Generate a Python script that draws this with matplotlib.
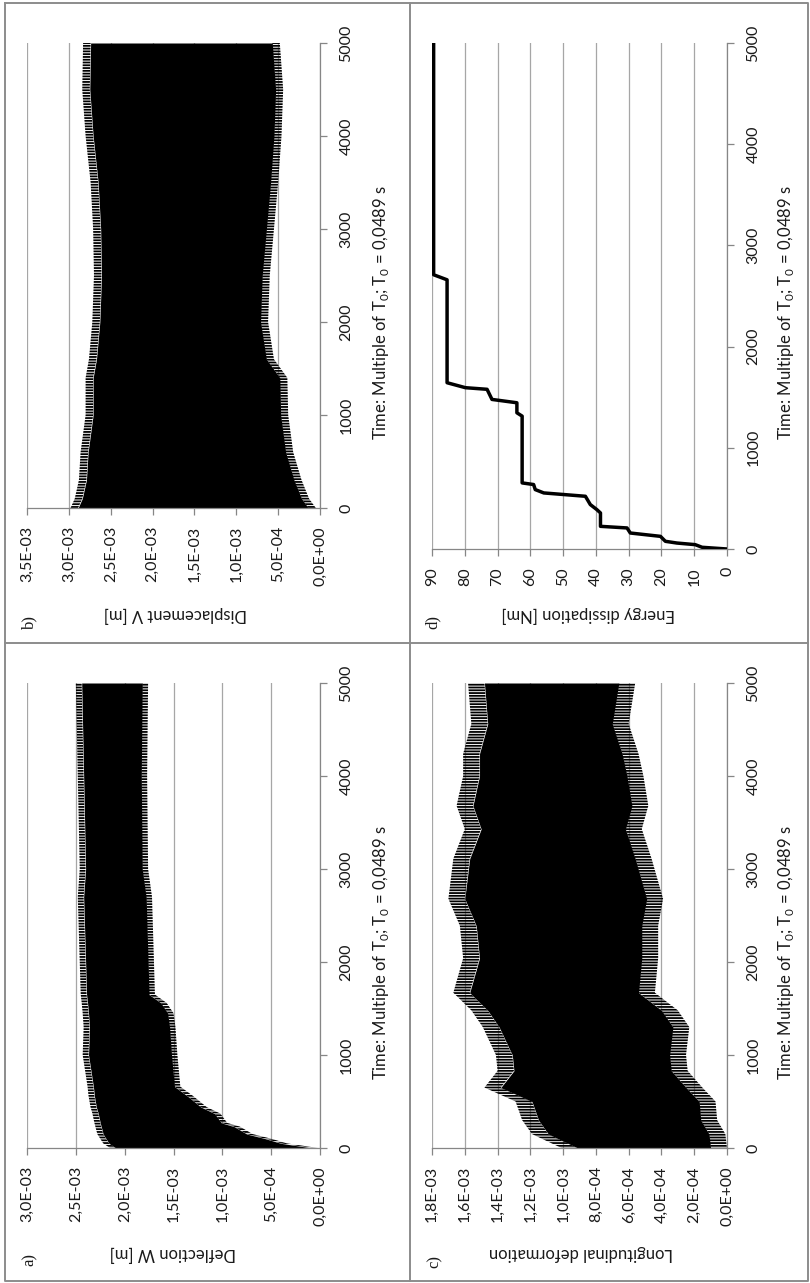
import matplotlib

matplotlib.use("Agg")
import matplotlib.pyplot as plt  # noqa: E402
import numpy as np  # noqa: E402
from matplotlib.lines import Line2D  # noqa: E402
from matplotlib.ticker import FuncFormatter  # noqa: E402

plt.rcParams["font.family"] = ["Lato", "DejaVu Sans"]
plt.rcParams["hatch.linewidth"] = 1.3

W, H = 810, 1283

# --------------------------------------------------------------------------- #
# Data. Bands: outer envelopes, values in 1e-3 units.
# --------------------------------------------------------------------------- #
time_a = [0, 50, 100, 150, 230, 270, 370, 440, 560, 660, 1000, 1300, 1450,
          1560, 1650, 2000, 2700, 3000, 4000, 5000]
upper_a = [2.15, 2.22, 2.25, 2.28, 2.30, 2.31, 2.33, 2.35, 2.37, 2.38, 2.43,
           2.42, 2.43, 2.44, 2.45, 2.46, 2.48, 2.46, 2.48, 2.50]
lower_a = [0.02, 0.34, 0.50, 0.69, 0.82, 0.95, 1.02, 1.16, 1.30, 1.43, 1.46,
           1.48, 1.50, 1.57, 1.69, 1.70, 1.72, 1.76, 1.77, 1.76]

time_b = [0, 100, 300, 600, 1000, 1400, 1600, 2000, 2500, 3000, 3500, 4000,
          4500, 5000]
upper_b = [2.98, 2.93, 2.88, 2.86, 2.80, 2.80, 2.76, 2.72, 2.70, 2.71, 2.74,
           2.80, 2.84, 2.83]
lower_b = [0.05, 0.13, 0.22, 0.32, 0.38, 0.39, 0.55, 0.62, 0.60, 0.55, 0.50,
           0.46, 0.44, 0.48]

time_c = [0, 150, 300, 500, 650, 830, 1000, 1300, 1480, 1670, 2040, 2390,
          2680, 3110, 3430, 3680, 4000, 4240, 4560, 5000]
upper_c = [1.01, 1.19, 1.25, 1.29, 1.48, 1.40, 1.41, 1.49, 1.56, 1.67, 1.61,
           1.63, 1.70, 1.67, 1.60, 1.65, 1.61, 1.61, 1.56, 1.58]
lower_c = [0.00, 0.01, 0.06, 0.07, 0.15, 0.24, 0.25, 0.23, 0.30, 0.44, 0.42,
           0.42, 0.39, 0.46, 0.52, 0.48, 0.51, 0.54, 0.60, 0.56]

# energy dissipation [Nm], cumulative step curve
time_d = [0, 17, 43, 59, 76, 125, 158, 208, 224, 356, 389, 439, 521, 554,
          587, 637, 653, 1313, 1346, 1445, 1478, 1578, 1594, 1643, 2660, 2710,
          5000]
energy_d = [0, 7.6, 9.7, 15.3, 18.8, 20.3, 29.5, 30.5, 38.6, 38.6, 39.7,
            41.7, 43.2, 55.9, 58.5, 59.0, 62.5, 62.5, 64.1, 64.1, 71.7, 73.2,
            79.8, 85.4, 85.4, 89.5, 89.5]

time_ticks = [0, 1000, 2000, 3000, 4000, 5000]
time_label = r"Time: Multiple of T$_\mathregular{0}$; T$_\mathregular{0}$ = 0,0489 s"

GRID = "#a6a6a6"
AXC = "#868686"
TXT = "#1a1a1a"


def sci_comma(v, _pos=None):
    return f"{v:.1E}".replace(".", ",")


def px_axes(fig, x0, y0, x1, y1):
    return fig.add_axes([x0 / W, 1 - y1 / H, (x1 - x0) / W, (y1 - y0) / H])


def style(ax, vmax, vstep, fmt):
    ax.set_xlim(vmax, 0)
    ax.set_ylim(0, 5000)
    ax.set_xticks(np.arange(0, vmax + vstep / 2, vstep))
    ax.set_yticks(time_ticks)
    ax.xaxis.set_major_formatter(FuncFormatter(fmt))
    ax.yaxis.tick_right()
    ax.grid(axis="x", color=GRID, lw=0.9)
    ax.set_axisbelow(True)
    for s in ("top", "left"):
        ax.spines[s].set_visible(False)
    for s in ("right", "bottom"):
        ax.spines[s].set_color(AXC)
        ax.spines[s].set_linewidth(0.9)
    ax.tick_params(axis="both", direction="out", length=5, width=0.9,
                   color=AXC, labelcolor=TXT, labelsize=11.5, labelrotation=90)
    ax.tick_params(axis="x", pad=8)
    ax.tick_params(axis="y", pad=9)
    for lbl in ax.get_yticklabels():
        lbl.set_va("center")


def band(ax, t, upper, lower, fringe):
    # solid core plus a finely striped fringe for the jagged oscillation edge
    t = np.asarray(t, float)
    up = np.asarray(upper) * 1e-3
    lo = np.asarray(lower) * 1e-3
    f = fringe * 1e-3
    ax.fill_betweenx(t, lo + f, up - f, color="black", lw=0, zorder=2)
    for a, b in ((up - f, up), (lo, lo + f)):
        ax.fill_betweenx(t, a, b, facecolor="none", edgecolor="black",
                         hatch="------", lw=0, zorder=2)


def ftext(fig, x, y, s, **kw):
    fig.text(x / W, 1 - y / H, s, ha="center", va="center", color=TXT, **kw)


fig = plt.figure(figsize=(W / 100, H / 100), dpi=100)

# panel b (top left)
ax_b = px_axes(fig, 27, 43, 320, 508)
band(ax_b, time_b, upper_b, lower_b, 0.09)
style(ax_b, 3.5e-3, 5e-4, sci_comma)

# panel a (bottom left)
ax_a = px_axes(fig, 27, 683, 320, 1148)
band(ax_a, time_a, upper_a, lower_a, 0.06)
style(ax_a, 3.0e-3, 5e-4, sci_comma)

# panel d (top right)
ax_d = px_axes(fig, 432, 43, 727, 549)
ax_d.plot(energy_d, time_d, color="black", lw=2.5, zorder=3)
style(ax_d, 90, 10, lambda v, p: f"{v:.0f}")

# panel c (bottom right)
ax_c = px_axes(fig, 432, 683, 727, 1148)
band(ax_c, time_c, upper_c, lower_c, 0.10)
style(ax_c, 1.8e-3, 2e-4, sci_comma)

# axis titles and panel letters
for x, y in ((381, 312), (381, 952), (786, 312), (786, 952)):
    ftext(fig, x, y, time_label, rotation=90, fontsize=12)

ftext(fig, 175, 615, "Displacement V [m]", rotation=180, fontsize=12)
ftext(fig, 173, 1253, "Deflection W [m]", rotation=180, fontsize=12)
ftext(fig, 588, 615, "Energy dissipation [Nm]", rotation=180, fontsize=12)
ftext(fig, 581, 1253, "Longitudinal deformation", rotation=180, fontsize=12)

serif = ["Liberation Serif", "DejaVu Serif"]
ftext(fig, 29, 622, "b)", rotation=90, fontsize=12, family=serif)
ftext(fig, 30, 1260, "a)", rotation=90, fontsize=12, family=serif)
ftext(fig, 433, 622, "d)", rotation=90, fontsize=12, family=serif)
ftext(fig, 435, 1261, "c)", rotation=90, fontsize=12, family=serif)

# panel frames
frame = dict(transform=fig.transFigure, color="#8c8c8c", lw=1.4)
for xs, ys in (([5, 808, 808, 5, 5], [3, 3, 1281, 1281, 3]),
               ([410, 410], [3, 1281]),
               ([5, 808], [643, 643])):
    fig.add_artist(Line2D([x / W for x in xs], [1 - y / H for y in ys], **frame))

fig.savefig("out.png", dpi=100)
